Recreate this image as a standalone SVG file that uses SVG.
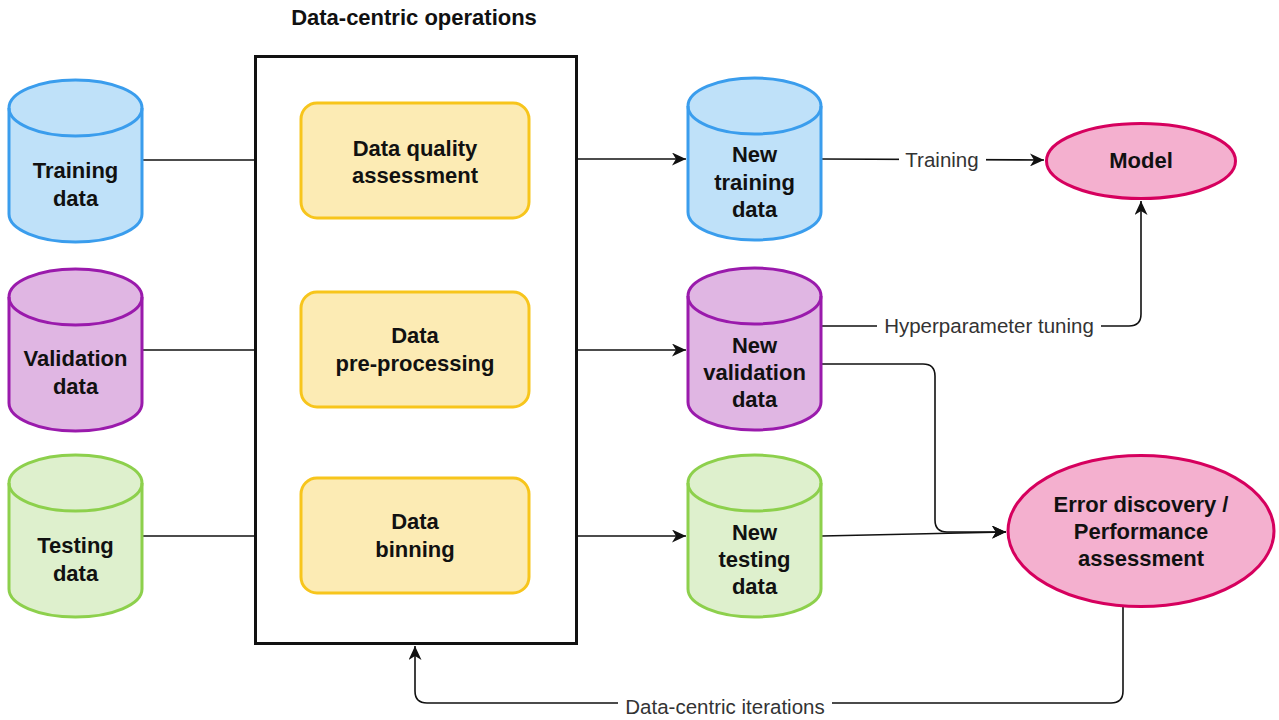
<svg xmlns="http://www.w3.org/2000/svg" width="1279" height="720" viewBox="0 0 1279 720">
<defs>
<style>
.b{font-family:"Liberation Sans",Arial,sans-serif;font-weight:bold;font-size:22px;fill:#111;text-anchor:middle}
.l{font-family:"Liberation Sans",Arial,sans-serif;font-size:20.5px;fill:#333;text-anchor:middle}
.blue{fill:#BFE1F9;stroke:#3A9DED;stroke-width:3}
.purple{fill:#E0B6E3;stroke:#9A1AAC;stroke-width:3}
.green{fill:#DEF0CD;stroke:#8DD04C;stroke-width:3}
.yellow{fill:#FCEBB4;stroke:#F7C51C;stroke-width:3}
.pink{fill:#F4B0CF;stroke:#D6005E;stroke-width:3}
.c{fill:none;stroke:#111;stroke-width:1.6}
.bg{fill:#fff}
</style>
<g id="cyl">
<path d="M0,28 A66.5,28 0 0 1 133,28 L133,134 A66.5,28 0 0 1 0,134 Z"/>
<path d="M0,28 A66.5,28 0 0 0 133,28" fill="none"/>
</g>
<marker id="arr" markerUnits="userSpaceOnUse" markerWidth="15" markerHeight="13" refX="14" refY="6.5" orient="auto" viewBox="0 0 15 13">
<path d="M0,0 L14,6.5 L0,13 L4,6.5 Z" fill="#111"/>
</marker>
</defs>
<rect width="1279" height="720" fill="#fff"/>

<g id="connectors">
<path class="c" d="M142,160 H254"/>
<path class="c" d="M142,350 H254"/>
<path class="c" d="M142,536 H254"/>
<path class="c" d="M577,159 H686" marker-end="url(#arr)"/>
<path class="c" d="M577,350 H686" marker-end="url(#arr)"/>
<path class="c" d="M577,536 H686" marker-end="url(#arr)"/>
<path class="c" d="M415,218 V290" marker-end="url(#arr)"/>
<path class="c" d="M415,407 V476" marker-end="url(#arr)"/>
<path class="c" d="M822,159 L1044,160" marker-end="url(#arr)"/>
<path class="c" d="M822,326 H1129 Q1141,326 1141,314 V201" marker-end="url(#arr)"/>
<path class="c" d="M822,364 H923 Q935,364 935,376 V520 Q935,532 947,532 H1006" marker-end="url(#arr)"/>
<path class="c" d="M822,536 L1006,532" marker-end="url(#arr)"/>
<path class="c" d="M1123,606 V691 Q1123,703 1111,703 H427 Q415,703 415,691 V646" marker-end="url(#arr)"/>
<rect class="bg" x="899" y="147" width="87" height="26"/>
<text class="l" x="942" y="166.5">Training</text>
<rect class="bg" x="877" y="314" width="224" height="26"/>
<text class="l" x="989" y="333">Hyperparameter tuning</text>
<rect class="bg" x="618" y="694" width="214" height="26"/>
<text class="l" x="725" y="714">Data-centric iterations</text>
</g>

<g id="title">
<text class="b" x="414" y="25">Data-centric operations</text>
</g>

<g id="data-centric-box">
<rect x="255.5" y="56.5" width="321" height="587" fill="#fff" stroke="#111" stroke-width="3"/>
</g>

<g id="training-data">
<use href="#cyl" x="9" y="80" class="blue"/>
<text class="b" x="75.5" y="178">Training</text>
<text class="b" x="75.5" y="206">data</text>
</g>
<g id="validation-data">
<use href="#cyl" x="9" y="269" class="purple"/>
<text class="b" x="75.5" y="366">Validation</text>
<text class="b" x="75.5" y="394">data</text>
</g>
<g id="testing-data">
<use href="#cyl" x="9" y="455" class="green"/>
<text class="b" x="75.5" y="553">Testing</text>
<text class="b" x="75.5" y="581">data</text>
</g>

<g id="data-quality">
<rect x="301" y="103" width="228" height="115" rx="16" class="yellow"/>
<text class="b" x="415" y="156">Data quality</text>
<text class="b" x="415" y="183">assessment</text>
</g>
<g id="data-preprocessing">
<rect x="301" y="292" width="228" height="115" rx="16" class="yellow"/>
<text class="b" x="415" y="343">Data</text>
<text class="b" x="415" y="371">pre-processing</text>
</g>
<g id="data-binning">
<rect x="301" y="478" width="228" height="115" rx="16" class="yellow"/>
<text class="b" x="415" y="529">Data</text>
<text class="b" x="415" y="557">binning</text>
</g>

<g id="new-training-data">
<use href="#cyl" x="688" y="78" class="blue"/>
<text class="b" x="754.5" y="162">New</text>
<text class="b" x="754.5" y="189.5">training</text>
<text class="b" x="754.5" y="217">data</text>
</g>
<g id="new-validation-data">
<use href="#cyl" x="688" y="268" class="purple"/>
<text class="b" x="754.5" y="353">New</text>
<text class="b" x="754.5" y="380">validation</text>
<text class="b" x="754.5" y="407">data</text>
</g>
<g id="new-testing-data">
<use href="#cyl" x="688" y="455" class="green"/>
<text class="b" x="754.5" y="540">New</text>
<text class="b" x="754.5" y="567">testing</text>
<text class="b" x="754.5" y="594">data</text>
</g>

<g id="model">
<ellipse cx="1141" cy="161" rx="94.5" ry="37.5" class="pink"/>
<text class="b" x="1141" y="168">Model</text>
</g>
<g id="error-discovery">
<ellipse cx="1141" cy="531" rx="133" ry="75.5" class="pink"/>
<text class="b" x="1141" y="512">Error discovery /</text>
<text class="b" x="1141" y="539">Performance</text>
<text class="b" x="1141" y="566">assessment</text>
</g>
</svg>
